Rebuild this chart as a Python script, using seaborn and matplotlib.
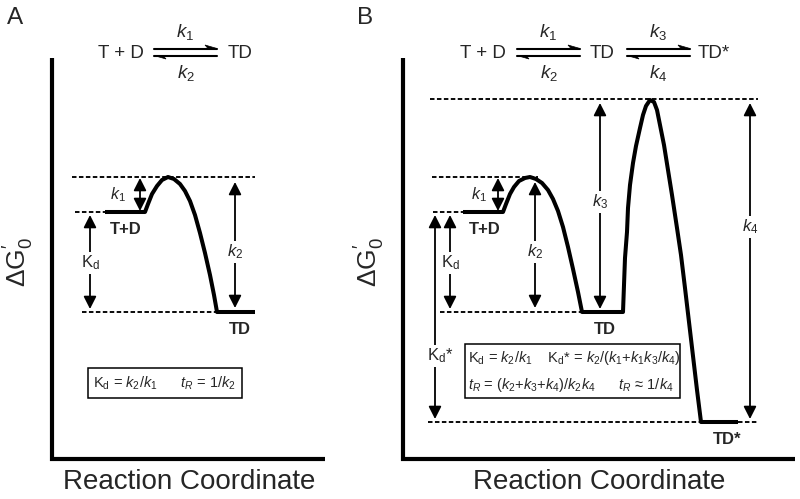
import matplotlib
matplotlib.use("Agg")
import matplotlib.pyplot as plt
import seaborn as sns

sns.set_style("white")
plt.rcParams['font.family'] = ['Liberation Sans', 'DejaVu Sans']
plt.rcParams['mathtext.fontset'] = 'custom'
plt.rcParams['mathtext.rm'] = 'Liberation Sans'
plt.rcParams['mathtext.it'] = 'Liberation Sans:italic'
plt.rcParams['mathtext.bf'] = 'Liberation Sans:bold'

# Energy levels (pixel rows, smaller = higher free energy)
# Panel A: T + D <-> TD
a_ts = 177
a_tpd = 212
a_td = 312

# energy profile of panel A
a_profile_x = [105, 145, 148, 152, 157, 162, 168, 174, 180, 185, 190, 195, 200,
               205, 210, 214, 217, 255]
a_profile_y = [212, 212, 204, 194, 186, 180, 177, 179, 184, 191, 201, 215, 233,
               253, 275, 295, 312, 312]

# Panel B: T + D <-> TD <-> TD*
b_ts2 = 99
b_ts1 = 177
b_tpd = 212
b_td = 312
b_tds = 422

b_profile_x = [463, 503, 506, 510, 514, 519, 525, 530, 536, 542, 548, 553, 558,
               563, 568, 573, 578, 582, 622, 623, 624, 625, 627, 628, 630, 633,
               636, 640, 643, 646, 650, 654, 657, 660, 664, 668, 672, 677, 681,
               685, 689, 693, 697, 701, 738]
b_profile_y = [212, 212, 204, 194, 187, 181, 178, 177, 179, 183, 190, 199, 211,
               227, 247, 269, 292, 312, 312, 312, 285, 258, 232, 208, 185, 163,
               146, 128, 115, 106, 100, 102, 110, 125, 145, 170, 195, 228, 255,
               288, 322, 356, 390, 422, 422]

fig = plt.figure(figsize=(8, 4.99), dpi=100)
ax = fig.add_axes([0, 0, 1, 1])

line_kw = dict(color="black", lw=2.9, sort=False, estimator=None, legend=False, ax=ax)
sns.lineplot(x=a_profile_x, y=a_profile_y, **line_kw)
sns.lineplot(x=b_profile_x, y=b_profile_y, **line_kw)
for l in ax.lines:
    l.set_solid_joinstyle("round")
    l.set_solid_capstyle("butt")

# axes frames of the two panels
frame_kw = dict(color="black", lw=3, solid_joinstyle="miter", solid_capstyle="butt")
ax.plot([52, 52, 325], [58, 459, 459], **frame_kw)
ax.plot([403, 403, 795], [58, 459, 459], **frame_kw)

dash = (0, (2.4, 1.3))


def level(y, x0, x1):
    ax.plot([x0, x1], [y, y], color="black", lw=1.35, linestyle=dash)


# dashed reference levels
level(a_ts, 72, 255)
level(a_tpd, 75, 105)
level(a_td, 82, 217)

level(b_ts2, 430, 758)
level(b_ts1, 432, 538)
level(b_tpd, 433, 463)
level(b_td, 440, 582)
level(b_tds, 428, 700)
level(b_tds, 738, 757)

arrow_style = "<|-|>,head_length=0.75,head_width=0.38"


def gap_arrow(x, y0, y1, label=None, ly=None, lx=None, size=12):
    ax.annotate("", xy=(x, y1), xytext=(x, y0),
                arrowprops=dict(arrowstyle=arrow_style, color="black", lw=1.3,
                                shrinkA=0, shrinkB=0))
    if label:
        ax.text(x if lx is None else lx, ly, label, ha="center", va="center",
                fontsize=size,
                bbox=dict(facecolor="white", edgecolor="none", pad=1.5))


# panel A arrows
gap_arrow(140, a_ts + 1, a_tpd - 1)
ax.text(118, 195, r"$k_1$", ha="center", va="center", fontsize=11.5)
gap_arrow(90, a_tpd + 3, a_td - 3, r"K$_\mathrm{d}$", 263)
gap_arrow(235, a_ts + 5, a_td - 4, r"$k_2$", 252)

# panel B arrows
gap_arrow(435, b_tpd + 3, b_tds - 3, r"K$_\mathrm{d}$*", 356, lx=440)
gap_arrow(450, b_tpd + 3, b_td - 3, r"K$_\mathrm{d}$", 263)
gap_arrow(498, b_ts1 + 1, b_tpd - 1)
ax.text(479, 195, r"$k_1$", ha="center", va="center", fontsize=11.5)
gap_arrow(535, b_ts1 + 5, b_td - 4, r"$k_2$", 252)
gap_arrow(600, b_ts2 + 4, b_td - 3, r"$k_3$", 202)
gap_arrow(750, b_ts2 + 4, b_tds - 3, r"$k_4$", 227)

# state labels
bold = dict(ha="center", va="center", fontsize=12, fontweight="bold")
ax.text(126, 229, "T+D", **bold)
ax.text(240, 330, "TD", **bold)
ax.text(485, 229, "T+D", **bold)
ax.text(605, 330, "TD", **bold)
ax.text(727, 440, "TD*", **bold)


# reaction schemes
def equilibrium(x1, x2, y, top, bottom):
    yu, yl = y - 3.5, y + 3.5
    ax.plot([x1, x2], [yu, yu], color="black", lw=1.5)
    ax.plot([x1, x2], [yl, yl], color="black", lw=1.5)
    ax.fill([x2, x2 - 12, x2 - 9], [yu, yu - 3.5, yu], color="black", lw=0.5)
    ax.fill([x1, x1 + 12, x1 + 9], [yl, yl + 3.5, yl], color="black", lw=0.5)
    xm = (x1 + x2) / 2
    ax.text(xm, y - 20, top, ha="center", va="center", fontsize=13.5)
    ax.text(xm, y + 21, bottom, ha="center", va="center", fontsize=13.5)


scheme = dict(ha="center", va="center", fontsize=13.5)
ax.text(121, 53, "T + D", **scheme)
equilibrium(154, 217, 52, r"$k_1$", r"$k_2$")
ax.text(240, 53, "TD", **scheme)

ax.text(483, 53, "T + D", **scheme)
equilibrium(517, 580, 52, r"$k_1$", r"$k_2$")
ax.text(602, 53, "TD", **scheme)
equilibrium(627, 690, 52, r"$k_3$", r"$k_4$")
ax.text(714, 53, "TD*", **scheme)

# equation boxes
box_fs = 10.5
ax.text(93, 383, r"K$_\mathrm{d}$ = $k_2$/$k_1$      $t_R$ = 1/$k_2$",
        ha="left", va="center", fontsize=box_fs)
ax.add_patch(plt.Rectangle((87.5, 368), 154, 30, fill=False, lw=1.1,
                           edgecolor="black"))
ax.text(468, 358, r"K$_\mathrm{d}$ = $k_2$/$k_1$    K$_\mathrm{d}$* = $k_2$/($k_1$+$k_1k_3$/$k_4$)",
        ha="left", va="center", fontsize=box_fs)
ax.text(468, 385, r"$t_R$ = ($k_2$+$k_3$+$k_4$)/$k_2k_4$      $t_R$ ≈ 1/$k_4$",
        ha="left", va="center", fontsize=box_fs)
ax.add_patch(plt.Rectangle((464.5, 344), 215, 54, fill=False, lw=1.1,
                           edgecolor="black"))

# panel letters, axis titles
ax.text(15, 18, "A", ha="center", va="center", fontsize=17.5)
ax.text(365, 18, "B", ha="center", va="center", fontsize=17.5)
ax.text(189, 482, "Reaction Coordinate", ha="center", va="center", fontsize=20)
ax.text(599, 482, "Reaction Coordinate", ha="center", va="center", fontsize=20)
for xc in (19, 370):
    ax.text(xc, 262, r"$\mathrm{\Delta G}_0^{\prime}$", ha="center", va="center",
            rotation=90, fontsize=19)

ax.set_xlim(0, 800)
ax.set_ylim(499, 0)
ax.axis("off")

plt.savefig("out.png", dpi=100)
plt.close()
